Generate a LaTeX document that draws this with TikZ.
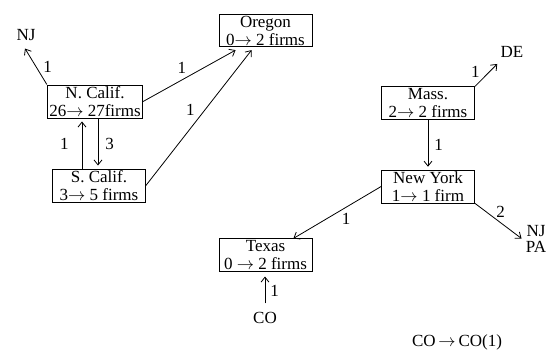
\documentclass[tikz,border=0pt]{standalone}
\usepackage{fontspec}
\setmainfont{Liberation Serif}
\usetikzlibrary{arrows.meta,positioning,calc}

\begin{document}
\begin{tikzpicture}[x=1pt,y=-1pt,-,line width=0.8pt,
                    >={Straight Barb[length=5pt,width=8pt]},
                    every node/.style={font=\fontsize{17pt}{18pt}\selectfont,inner sep=1pt},
                    state node/.style={rectangle,draw,align=center,minimum width=93pt,
                                       inner xsep=2pt,inner ysep=1.5pt},
                    tag node/.style={align=center,font=\fontsize{17pt}{16pt}\selectfont}]
  \useasboundingbox (0,0) rectangle (555,354);

  % states
  \node[state node] (or) at (265.5,30.5) {Oregon\\0$\rightarrow$ 2 firms};
  \node[state node] (nc) at (95,101.5) {N. Calif.\\26$\rightarrow$ 27firms};
  \node[state node] (sc) at (99,185.5) {S. Calif.\\3$\rightarrow$ 5 firms};
  \node[state node] (ma) at (428,103) {Mass.\\2$\rightarrow$ 2 firms};
  \node[state node] (ny) at (428,186.5) {New York\\1$\rightarrow$ 1 firm};
  \node[state node] (tx) at (265.5,255) {Texas\\0 $\rightarrow$ 2 firms};

  % other states
  \node[tag node] (nj) at (26,35) {NJ};
  \node[tag node] (de) at (512,52) {DE};
  \node[tag node] (njpa) at (536,238.5) {NJ\\PA};
  \node[tag node] (co) at (265,317.5) {CO};

  \node (key) at (457,342) {CO\,$\rightarrow$\,CO(1)};

  \coordinate (upfoot) at ([xshift=-17pt]sc.north);
  \coordinate (downtop) at ([xshift=3pt]nc.south);

  \path[->]
    (nc.north west) edge node[midway,right=6pt] {1} ([xshift=-1pt,yshift=-6.5pt]nj.south)
    (nc.east) edge node[pos=.42,above=5pt] {1} ([xshift=17pt,yshift=-3pt]or.south west)
    (sc.east) edge node[pos=.56,left=9pt] {1} ([xshift=33pt,yshift=-3pt]or.south west)
    (upfoot) edge[shorten >=3pt] node[midway,left=12pt] {1} (upfoot |- nc.south)
    (downtop) edge[shorten >=3pt] node[midway,right=6pt] {3} (downtop |- sc.north)
    (ma.north east) edge node[pos=.3,above left=1pt] {1} ([xshift=-2pt,yshift=-5pt]de.south west)
    (ma.south) edge[shorten >=3pt] node[midway,right=5pt] {1} (ny.north)
    (ny.west) edge node[pos=.4,below=5pt] {1} (tx)
    (ny.south east) edge node[pos=.55,above=4pt] {2} ([xshift=-3pt]njpa.west)
    (co.north) edge[shorten <=7pt,shorten >=5pt] node[midway,right=4pt] {1} (co.north |- tx.south);

\end{tikzpicture}
\end{document}
